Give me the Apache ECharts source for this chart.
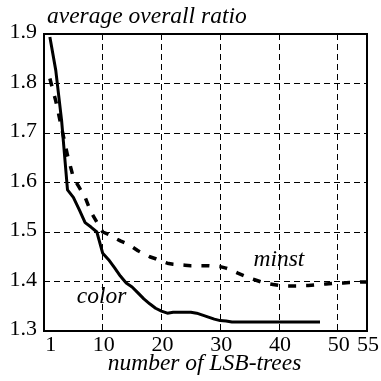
<!DOCTYPE html>
<html>
<head>
<meta charset="utf-8">
<script src="https://cdn.jsdelivr.net/npm/echarts@6/dist/echarts.min.js"></script>
<style>
  html, body { margin: 0; padding: 0; background: #fff; }
  #chart { width: 381px; height: 381px; }
</style>
</head>
<body>
<div id="chart"></div>
<script>
// number of LSB-trees (x) and average overall ratio for each data set
const trees = [];
for (let i = 1; i <= 55; i++) trees.push(i);

const colorRatio = [
  1.894, 1.827, 1.725, 1.585, 1.570, 1.545, 1.519, 1.510, 1.500, 1.457,
  1.444, 1.428, 1.411, 1.397, 1.389, 1.377, 1.365, 1.355, 1.346, 1.340,
  1.336, 1.338, 1.338, 1.338, 1.338, 1.336, 1.332, 1.328, 1.324, 1.321,
  1.320, 1.318, 1.318, 1.318, 1.318, 1.318, 1.318, 1.318, 1.318, 1.318,
  1.318, 1.318, 1.318, 1.318, 1.318, 1.318, 1.318
];

const minstRatio = [
  1.810, 1.765, 1.710, 1.655, 1.610, 1.590, 1.570, 1.540, 1.520, 1.500,
  1.495, 1.488, 1.482, 1.477, 1.470, 1.462, 1.456, 1.450, 1.446, 1.441,
  1.437, 1.435, 1.434, 1.433, 1.432, 1.432, 1.432, 1.432, 1.431, 1.430,
  1.427, 1.423, 1.417, 1.412, 1.407, 1.403, 1.399, 1.396, 1.394, 1.392,
  1.391, 1.391, 1.391, 1.392, 1.392, 1.393, 1.394, 1.395, 1.396, 1.397,
  1.397, 1.398, 1.398, 1.399, 1.399
];

const xTickLabels = [1, 10, 20, 30, 40, 50, 55];
const yTickLabels = [1.3, 1.4, 1.5, 1.6, 1.7, 1.8, 1.9];

const titleText = 'average overall ratio';
const xAxisName = 'number of LSB-trees';
const seriesNames = ['color', 'minst'];
// where the series names sit, in data coordinates
const colorNameAt = [9.8, 1.369];
const minstNameAt = [40.0, 1.444];

function pairs(xs, ys) {
  return ys.map((y, i) => [xs[i], y]);
}

const chart = echarts.init(document.getElementById('chart'), null, { renderer: 'canvas' });

const gridDash = { color: '#000', width: 1, type: [6, 4] };

chart.setOption({
  animation: false,
  backgroundColor: '#fff',
  grid: {
    left: 44, right: 14, top: 34, bottom: 50,
    show: true, borderColor: '#000', borderWidth: 2,
    backgroundColor: 'transparent'
  },
  xAxis: {
    type: 'value', min: 0, max: 55, interval: 10,
    axisLine: { show: false },
    axisTick: { show: false },
    axisLabel: { show: false },
    splitLine: { show: true, lineStyle: gridDash }
  },
  yAxis: {
    type: 'value', min: 1.3, max: 1.9, interval: 0.1,
    axisLine: { show: false },
    axisTick: { show: false },
    axisLabel: { show: false },
    splitLine: { show: true, lineStyle: gridDash }
  },
  series: [
    {
      name: seriesNames[0], type: 'line', showSymbol: false, symbol: 'none',
      data: pairs(trees, colorRatio),
      lineStyle: { color: '#000', width: 3 },
      z: 3
    },
    {
      name: seriesNames[1], type: 'line', showSymbol: false, symbol: 'none',
      data: pairs(trees, minstRatio),
      lineStyle: { color: '#000', width: 3.5, type: [8, 10] },
      z: 3
    }
  ]
});

// Tick labels, title and curve names drawn as graphic text placed through the axes.
function txt(text, x, y, italic, size, align) {
  return {
    type: 'text', x: x, y: y, z: 10,
    style: {
      text: text, fill: '#000',
      fontFamily: 'Liberation Serif', fontSize: size,
      fontStyle: italic ? 'italic' : 'normal',
      textAlign: align, textVerticalAlign: 'middle',
      align: align, verticalAlign: 'middle'
    }
  };
}

const tickSize = 22;
const textSize = 23.5;
const graphics = [];
const plotBottom = chart.convertToPixel({ yAxisIndex: 0 }, 1.3);
const plotLeft = chart.convertToPixel({ xAxisIndex: 0 }, 0);
const plotRight = chart.convertToPixel({ xAxisIndex: 0 }, 55);

yTickLabels.forEach(v => {
  const py = chart.convertToPixel({ yAxisIndex: 0 }, v);
  graphics.push(txt(v.toFixed(1), plotLeft - 7, py - 1.5, false, tickSize, 'right'));
});
xTickLabels.forEach(v => {
  const px = chart.convertToPixel({ xAxisIndex: 0 }, v);
  graphics.push(txt(String(v), px + 1, plotBottom + 14, false, tickSize, 'center'));
});

graphics.push(txt(titleText, plotLeft + 3, 17, true, textSize, 'left'));
graphics.push(txt(xAxisName, (plotLeft + plotRight) / 2 - 1, 364, true, textSize, 'center'));

const cPos = chart.convertToPixel({ xAxisIndex: 0, yAxisIndex: 0 }, colorNameAt);
const mPos = chart.convertToPixel({ xAxisIndex: 0, yAxisIndex: 0 }, minstNameAt);
graphics.push(txt(seriesNames[0], cPos[0], cPos[1], true, textSize, 'center'));
graphics.push(txt(seriesNames[1], mPos[0], mPos[1], true, textSize, 'center'));

chart.setOption({ graphic: graphics });
</script>
</body>
</html>
